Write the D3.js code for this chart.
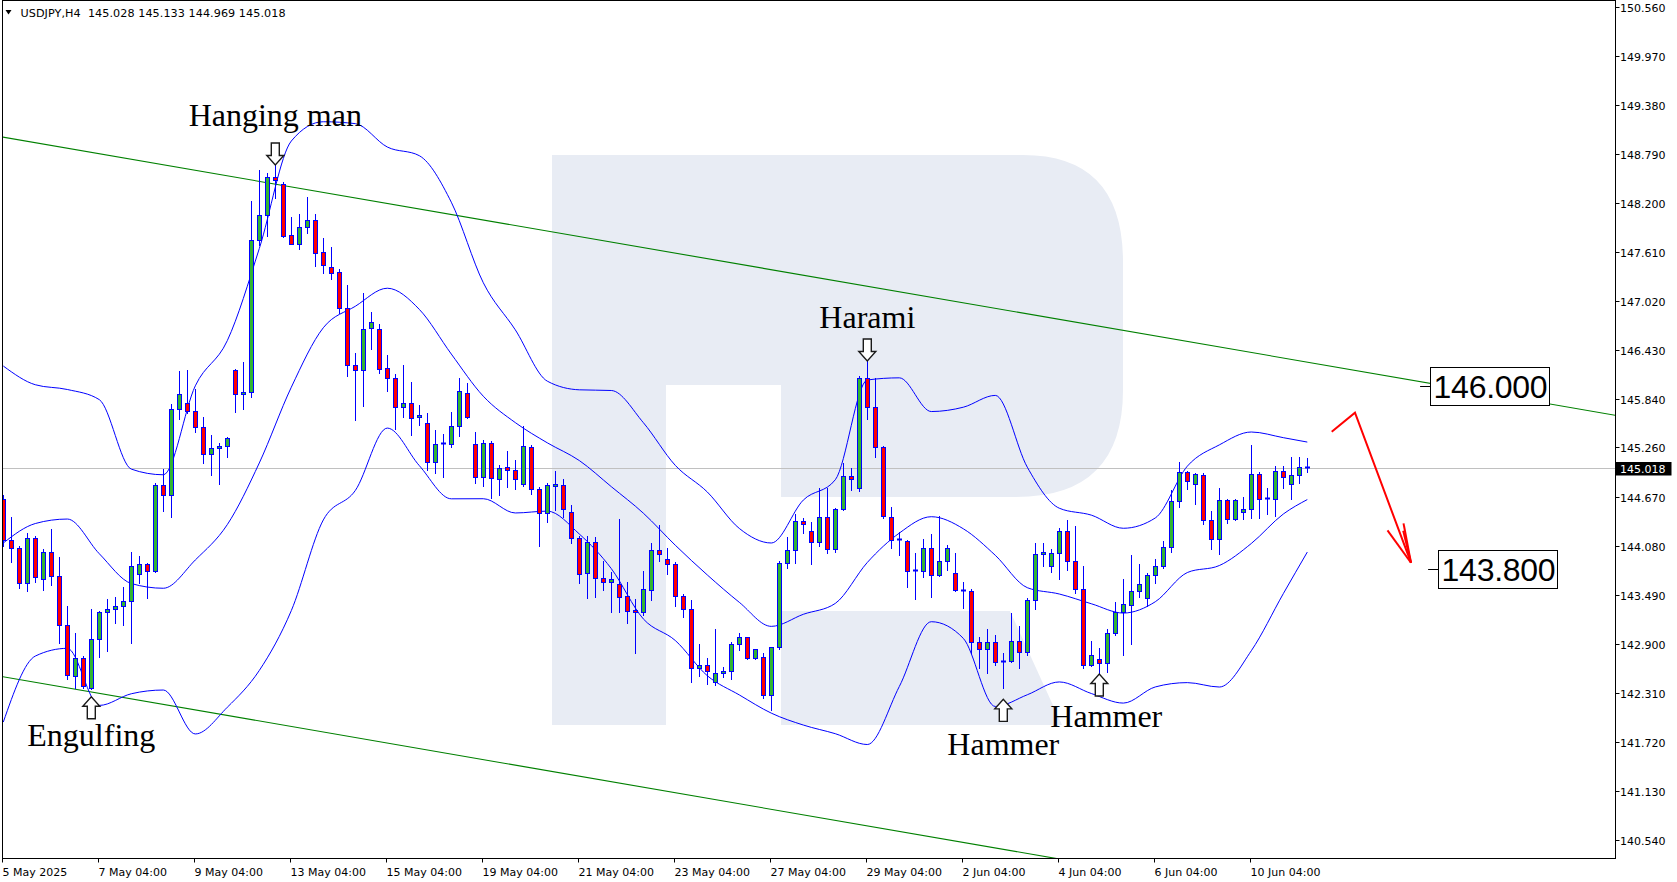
<!DOCTYPE html>
<html><head><meta charset="utf-8">
<script src="https://cdn.jsdelivr.net/npm/d3@7"></script>
<style>html,body{margin:0;padding:0;background:#fff;overflow:hidden}svg{display:block}</style>
</head><body>
<svg id="chart" width="1677" height="882"></svg>
<script>
// ---------------- DATA ----------------
const symbolTitle = "USDJPY,H4  145.028 145.133 144.969 145.018";
const opens = [144.640,144.148,144.048,143.627,144.168,143.675,144.000,143.715,143.126,142.513,
142.726,142.365,142.954,143.279,143.318,143.354,143.411,143.735,143.856,143.779,
144.809,144.684,145.723,145.800,145.693,145.501,145.179,145.250,145.275,146.188,
145.899,145.923,147.753,148.050,148.507,148.423,147.810,147.702,147.913,147.994,
147.606,147.429,147.365,146.940,146.247,146.187,146.692,146.687,146.211,146.091,
145.743,145.791,145.622,145.550,145.082,145.298,145.301,145.518,145.918,145.298,
144.901,145.310,144.877,145.021,144.985,144.817,145.262,144.757,144.476,144.800,
144.809,144.481,144.168,143.747,144.120,143.687,143.646,143.619,143.471,143.306,
143.279,143.543,144.024,143.919,143.856,143.471,143.315,142.606,142.642,142.445,
142.553,142.573,142.894,142.978,142.726,142.738,142.285,142.858,143.868,144.024,
144.376,144.252,144.120,144.420,144.036,144.517,144.913,144.769,146.091,145.743,
145.262,144.428,144.148,144.132,143.775,143.775,144.048,143.723,143.895,143.747,
143.535,143.535,142.925,142.834,142.925,142.678,142.697,142.937,142.798,143.423,
143.976,143.835,143.988,144.256,143.895,143.555,142.645,142.717,142.666,143.026,
143.279,143.363,143.531,143.447,143.727,143.835,144.060,144.620,144.961,144.817,
144.929,144.388,144.156,144.628,144.396,144.481,144.517,144.941,144.637,144.637,
144.977,144.817,144.929,145.028];
const highs = [144.688,144.420,144.076,144.228,144.196,144.036,144.276,143.940,143.354,143.034,
142.753,143.315,143.294,143.435,143.466,143.579,144.000,143.955,143.871,144.836,
144.997,145.779,146.178,146.186,145.959,145.630,145.410,145.310,145.385,146.208,
146.291,148.226,148.595,148.555,148.675,148.454,148.026,148.066,148.267,148.066,
147.774,147.666,147.401,147.213,146.392,147.113,146.892,146.744,146.368,146.139,
146.247,146.043,145.767,145.671,145.470,145.422,145.690,146.091,146.031,145.446,
145.350,145.338,145.049,145.221,145.109,145.518,145.289,144.785,144.836,144.981,
144.884,144.568,144.196,144.196,144.180,143.895,143.759,144.400,143.639,143.439,
143.775,144.108,144.328,144.048,143.883,143.499,143.426,142.898,142.729,143.074,
142.620,142.925,143.026,142.985,142.838,142.789,142.862,143.892,144.180,144.460,
144.408,144.360,144.776,144.776,144.529,145.070,145.017,146.119,146.311,146.091,
145.277,144.548,144.240,144.148,143.988,144.160,144.220,144.440,144.088,143.995,
143.646,143.555,142.978,143.074,143.006,142.785,143.267,143.118,143.447,144.115,
144.115,144.039,144.296,144.388,144.316,143.835,142.937,142.846,143.074,143.403,
143.679,143.967,143.859,143.747,143.916,144.136,144.749,145.082,144.977,144.949,
144.949,144.496,144.769,144.640,144.640,144.661,145.289,144.965,144.769,145.041,
145.041,145.149,145.149,145.133];
const lows = [144.076,143.887,143.574,143.538,143.646,143.547,143.607,142.906,142.481,142.365,
142.365,142.357,142.745,142.817,143.154,143.123,142.906,143.627,143.447,143.767,
144.500,144.426,145.607,145.672,145.444,145.070,144.929,144.827,145.143,145.692,
145.719,145.870,147.693,147.801,148.255,147.786,147.700,147.642,147.834,147.441,
147.360,147.281,146.880,146.119,145.590,145.758,146.440,146.158,145.942,145.478,
145.630,145.410,145.530,144.989,144.957,144.908,145.269,145.398,145.610,144.836,
144.797,144.649,144.689,144.781,144.764,144.797,144.701,144.079,144.368,144.508,
144.428,144.108,143.634,143.454,143.466,143.547,143.279,143.279,143.154,142.793,
143.246,143.426,143.899,143.743,143.358,143.226,142.445,142.513,142.421,142.405,
142.500,142.473,142.826,142.714,142.714,142.245,142.108,142.838,143.808,143.875,
144.235,143.856,144.076,143.988,144.000,144.508,144.749,144.740,145.598,145.142,
144.408,144.048,143.964,143.586,143.435,143.707,143.466,143.715,143.787,143.535,
143.327,142.786,142.606,142.545,142.645,142.372,142.685,142.606,142.765,143.315,
143.839,143.767,143.675,143.787,143.507,142.606,142.633,142.545,142.565,143.006,
142.765,142.894,143.466,143.358,143.627,143.808,144.000,144.548,144.761,144.577,
144.340,144.036,143.976,144.348,144.388,144.396,144.416,144.416,144.456,144.440,
144.776,144.644,144.829,144.969];
const closes = [144.148,144.048,143.627,144.168,143.707,144.000,143.715,143.126,142.521,142.726,
142.393,142.954,143.279,143.315,143.354,143.411,143.835,143.856,143.775,144.809,
144.689,145.723,145.899,145.693,145.508,145.179,145.250,145.277,145.370,145.900,
145.923,147.753,148.054,148.507,148.475,147.801,147.705,147.913,147.994,147.601,
147.453,147.360,146.940,146.247,146.187,146.687,146.764,146.206,146.091,145.743,
145.798,145.610,145.650,145.082,145.301,145.310,145.518,145.935,145.622,144.901,
145.310,144.889,145.009,144.985,144.877,145.277,144.757,144.476,144.809,144.817,
144.517,144.168,143.735,144.120,143.687,143.646,143.675,143.466,143.291,143.279,
143.555,144.024,143.983,143.856,143.471,143.315,142.606,142.642,142.573,142.553,
142.573,142.894,142.978,142.726,142.834,142.282,142.858,143.868,144.024,144.376,
144.336,144.120,144.420,144.036,144.517,144.913,144.877,146.091,145.743,145.262,
144.436,144.148,144.160,143.775,143.783,144.048,143.723,143.895,144.048,143.547,
143.543,142.925,142.834,142.925,142.678,142.697,142.937,142.798,143.423,143.976,
144.000,143.988,144.256,143.899,143.555,142.645,142.762,142.666,143.026,143.279,
143.378,143.531,143.615,143.727,143.835,144.060,144.620,144.961,144.860,144.941,
144.388,144.156,144.628,144.396,144.628,144.517,144.941,144.644,144.649,144.977,
144.901,144.929,145.029,145.018];

// Bollinger bands, read every 4th bar
const bandBars = [0,4,8,12,16,20,24,28,32,36,40,44,48,52,56,60,64,68,72,76,80,84,88,92,96,100,104,108,112,116,120,124,128,132,136,140,144,148,152,156,160,163];
const bandUpper = [146.239,146.014,145.957,145.835,145.000,144.932,146.001,146.544,147.651,148.943,149.175,149.152,148.871,148.767,148.208,147.240,146.674,146.057,145.953,145.945,145.559,145.045,144.725,144.287,144.112,144.628,144.872,146.071,146.097,145.692,145.744,145.886,145.023,144.530,144.447,144.289,144.413,145.035,145.291,145.446,145.378,145.325];
const bandMiddle = [144.112,144.346,144.400,143.983,143.625,143.568,143.908,144.333,145.074,145.984,146.699,146.957,147.174,146.920,146.383,145.876,145.559,145.316,145.103,144.789,144.471,144.085,143.728,143.399,143.110,143.255,143.386,143.878,144.231,144.428,144.283,143.964,143.575,143.499,143.382,143.270,143.406,143.757,143.841,144.106,144.460,144.634];
const bandLower = [141.960,142.753,142.846,142.160,142.300,142.345,141.817,142.138,142.580,143.299,144.389,144.743,145.493,145.042,144.643,144.644,144.473,144.495,144.220,143.804,143.200,142.940,142.517,142.286,142.067,141.924,141.820,141.690,142.387,143.166,142.966,142.147,142.288,142.442,142.303,142.188,142.382,142.434,142.381,142.817,143.503,144.003];

const yTickLabels = ["150.560","149.970","149.380","148.790","148.200","147.610","147.020","146.430","145.840","145.260","144.670","144.080","143.490","142.900","142.310","141.720","141.130","140.540"];
const xTickBars = [0,12,24,36,48,60,72,84,96,108,120,132,144,156];
const xTickLabels = ["5 May 2025","7 May 04:00","9 May 04:00","13 May 04:00","15 May 04:00","19 May 04:00","21 May 04:00","23 May 04:00","27 May 04:00","29 May 04:00","2 Jun 04:00","4 Jun 04:00","6 Jun 04:00","10 Jun 04:00"];
const lastPrice = 145.018;

// channel trend lines: [bar, price] anchors
const channelUpper = [[-0.075,148.990],[199.59,145.679]];
const channelLower = [[-0.075,142.505],[199.59,139.193]];

// pattern annotations
const patternNames = ["Hanging man","Harami","Engulfing","Hammer","Hammer"];
const patternBars = [34,108,11,125,137];
const patternArrowTip = [148.655,146.299,142.264,142.233,142.537];
const patternDir = ["down","down","up","up","up"];
const patternTextPrice = [149.127,146.692,141.672,141.564,141.900];
const patternTextShift = [0,0,0,0,7];

// target levels
const targetLevels = [146.000,143.800];
const targetLabels = ["146.000","143.800"];
const targetBars = [177.1,178.1];

// forecast arrow [bar, price]
const forecastPath = [[166.05,145.449],[168.96,145.678],[175.96,143.875]];

// ---------------- DRAW ----------------
const svg = d3.select("#chart");
const PL=2.5, PT=0.5, PR=1615.5, PB=858.5;
const x = d3.scaleLinear().domain([0,163]).range([3.3,1307.3]);
const y = d3.scaleLinear().domain([150.56,140.54]).range([6.5,840.2]);

svg.append("rect").attr("width",1677).attr("height",882).attr("fill","#fff");
const defs = svg.append("defs");
defs.append("clipPath").attr("id","plotclip").append("rect")
  .attr("x",PL+0.5).attr("y",PT+0.5).attr("width",PR-PL-1).attr("height",PB-PT-1);
const plot = svg.append("g").attr("clip-path","url(#plotclip)");

// watermark logo
const wm = "#e8ecf4";
plot.append("path").attr("fill",wm).attr("fill-rule","evenodd")
  .attr("d","M552,155 H1023 Q1123,155 1123,262 V390 Q1123,497 1016,497 H781 V385 H1008 V270 H666 V725 H552 Z M666,270 H1008 V385 H666 Z");
plot.append("path").attr("fill",wm).attr("d","M781,611 H1010 L1062,725 H781 Z");
plot.append("rect").attr("fill",wm).attr("x",552).attr("y",155).attr("width",114).attr("height",570);

// last price line
const yl = Math.round(y(lastPrice))+0.5;
plot.append("line").attr("x1",PL).attr("x2",PR).attr("y1",yl).attr("y2",yl).attr("stroke","#c0c0c0").attr("stroke-width",1);

// channel lines
const lineXY = d3.line().x(d=>x(d[0])).y(d=>y(d[1]));
function extend(seg){
  const [a,b]=seg; const s=(b[1]-a[1])/(b[0]-a[0]);
  const b0=-1, b1=202;
  return [[b0,a[1]+s*(b0-a[0])],[b1,a[1]+s*(b1-a[0])]];
}
[channelUpper,channelLower].forEach(seg=>{
  plot.append("path").attr("d",lineXY(extend(seg))).attr("fill","none").attr("stroke","#008000").attr("stroke-width",1.1);
});

// bands
const bandLine = d3.line().x(d=>x(d[0])).y(d=>y(d[1])).curve(d3.curveMonotoneX);
[bandUpper,bandMiddle,bandLower].forEach(arr=>{
  plot.append("path").attr("d",bandLine(bandBars.map((b,i)=>[b,arr[i]])))
    .attr("fill","none").attr("stroke","#0000ff").attr("stroke-width",1);
});

// candles
const cg = plot.append("g");
opens.forEach((o,i)=>{
  const c = closes[i], h=highs[i], l=lows[i];
  const cx = Math.round(x(i));
  cg.append("line").attr("x1",cx+0.5).attr("x2",cx+0.5)
    .attr("y1",Math.round(y(h))).attr("y2",Math.round(y(l))+1)
    .attr("stroke","#0000ff").attr("stroke-width",1);
  const yt = Math.round(y(Math.max(o,c))), yb = Math.round(y(Math.min(o,c)));
  if (yb - yt < 2) {
    cg.append("line").attr("x1",cx-2).attr("x2",cx+3).attr("y1",yt+0.5).attr("y2",yt+0.5)
      .attr("stroke","#0000ff").attr("stroke-width",yb-yt<1?1:2);
  } else {
    cg.append("rect").attr("x",cx-1.5).attr("y",yt+0.5).attr("width",4).attr("height",yb-yt)
      .attr("fill", c>=o ? "#32b432" : "#ff0000").attr("stroke","#0000ff").attr("stroke-width",1);
  }
});

// pattern arrows + labels
patternNames.forEach((name,i)=>{
  const tx = x(patternBars[i]), ty = y(patternArrowTip[i]);
  const s = patternDir[i]==="down" ? 1 : -1;
  const pts = [[tx-4,ty-s*22],[tx+4,ty-s*22],[tx+4,ty-s*9.5],[tx+8.5,ty-s*9.5],[tx,ty],[tx-8.5,ty-s*9.5],[tx-4,ty-s*9.5]];
  plot.append("path").attr("d","M"+pts.map(p=>p.join(",")).join("L")+"Z")
    .attr("fill","#fff").attr("stroke","#1a1a1a").attr("stroke-width",1.4).attr("stroke-linejoin","miter");
  plot.append("text").attr("x",tx+patternTextShift[i]).attr("y",y(patternTextPrice[i]))
    .attr("text-anchor","middle").attr("font-family","'Liberation Serif','Times New Roman',serif")
    .attr("font-size",32).attr("fill","#000").text(name);
});

// target labels
targetLevels.forEach((lv,i)=>{
  const yy = y(lv), x0 = x(targetBars[i]);
  plot.append("line").attr("x1",x0).attr("x2",x0+10).attr("y1",Math.round(yy)+0.5).attr("y2",Math.round(yy)+0.5).attr("stroke","#000");
  plot.append("rect").attr("x",Math.round(x0+10)+0.5).attr("y",Math.round(yy-19)+0.5).attr("width",119).attr("height",38)
    .attr("fill","#fff").attr("stroke","#000").attr("stroke-width",1);
  plot.append("text").attr("x",x0+13.5).attr("y",yy+11.6).attr("font-family","'Liberation Sans',Arial,sans-serif")
    .attr("font-size",32).attr("textLength",114).attr("fill","#000").text(targetLabels[i]);
});

// forecast arrow
const fp = forecastPath.map(d=>[x(d[0]),y(d[1])]);
plot.append("path").attr("d","M"+fp.map(p=>p.join(",")).join("L")).attr("fill","none")
  .attr("stroke","#ff0000").attr("stroke-width",2);
const tip = fp[fp.length-1], prev = fp[fp.length-2];
const ang = Math.atan2(tip[1]-prev[1], tip[0]-prev[0]) + Math.PI;
[[-0.27,40],[0.17,40],[0.12,33]].forEach(([da,len])=>{
  plot.append("line").attr("x1",tip[0]).attr("y1",tip[1])
    .attr("x2",tip[0]+len*Math.cos(ang+da)).attr("y2",tip[1]+len*Math.sin(ang+da))
    .attr("stroke","#ff0000").attr("stroke-width",2);
});

// header
svg.append("path").attr("d","M5.5,10 L11.5,10 L8.5,14.5 Z").attr("fill","#000");
svg.append("text").attr("x",20.5).attr("y",16.5).attr("font-family","'DejaVu Sans',sans-serif")
  .attr("font-size",11.2).attr("textLength",265).attr("fill","#000").attr("xml:space","preserve").style("white-space","pre").text(symbolTitle);

// frame
svg.append("rect").attr("x",PL).attr("y",PT).attr("width",PR-PL).attr("height",PB-PT)
  .attr("fill","none").attr("stroke","#000").attr("stroke-width",1);

// right axis
yTickLabels.forEach(t=>{
  const v = +t, yy = Math.round(y(v))+0.5;
  svg.append("line").attr("x1",PR).attr("x2",PR+4).attr("y1",yy).attr("y2",yy).attr("stroke","#000");
  svg.append("text").attr("x",1620).attr("y",yy+4).attr("font-family","'DejaVu Sans',sans-serif")
    .attr("font-size",11).attr("fill","#000").text(t);
});
// last price box
svg.append("rect").attr("x",PR).attr("y",yl-6.5).attr("width",56).attr("height",13.5).attr("fill","#000");
svg.append("text").attr("x",1620).attr("y",yl+4).attr("font-family","'DejaVu Sans',sans-serif")
  .attr("font-size",11).attr("fill","#fff").text(lastPrice.toFixed(3));

// bottom axis
xTickBars.forEach((b,i)=>{
  const xx = Math.round(x(b))-0.5;
  svg.append("line").attr("x1",xx).attr("x2",xx).attr("y1",PB).attr("y2",PB+4).attr("stroke","#000");
  svg.append("text").attr("x",xx).attr("y",875.5).attr("font-family","'DejaVu Sans',sans-serif")
    .attr("font-size",11).attr("fill","#000").text(xTickLabels[i]);
});
</script>
</body></html>
